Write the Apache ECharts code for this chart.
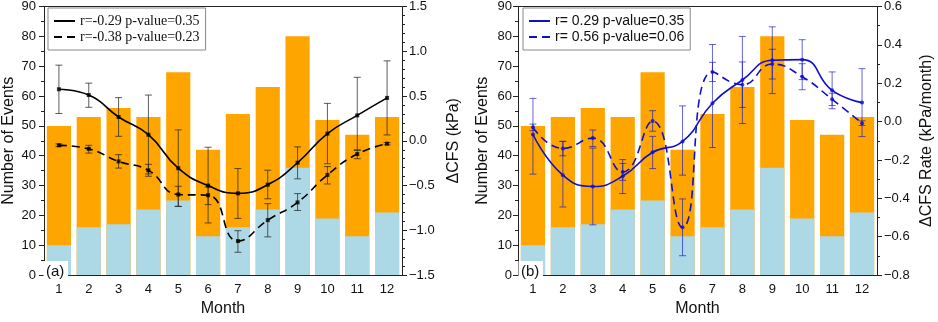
<!DOCTYPE html>
<html><head><meta charset="utf-8">
<script src="https://cdn.jsdelivr.net/npm/echarts@6/dist/echarts.min.js"></script>
<style>html,body{margin:0;padding:0;background:#fff}#c{width:938px;height:322px}</style>
</head><body><div id="c"></div>
<script>
// ---- data ----
const months = ['1','2','3','4','5','6','7','8','9','10','11','12'];
const totalEvents = [50,53,56,53,68,42,54,63,80,52,47,53];
const subEvents   = [10,16,17,22,25,13,16,22,36,19,13,21];
const countTicks = [0,10,20,30,40,50,60,70,80,90];

// panel (a): ΔCFS (kPa)
const aSolidName = 'r=-0.29 p-value=0.35';
const aDashName  = 'r=-0.38 p-value=0.23';
const aSolid   = [0.576,0.511,0.266,0.068,-0.306,-0.50,-0.587,-0.49,-0.245,0.08,0.284,0.479];
const aSolidLo = [0.305,0.374,0.05,-0.37,-0.734,-0.918,-0.867,-0.648,-0.425,-0.256,-0.10,0.065];
const aSolidHi = [0.845,0.644,0.482,0.511,0.122,-0.072,-0.31,-0.328,-0.068,0.418,0.709,0.893];
const aDash    = [-0.05,-0.09,-0.23,-0.33,-0.60,-0.608,-1.12,-0.886,-0.688,-0.381,-0.148,-0.032];
const aDashLo  = [-0.065,-0.137,-0.305,-0.396,-0.731,-0.713,-1.245,-1.073,-0.778,-0.482,-0.20,-0.045];
const aDashHi  = [-0.035,-0.05,-0.155,-0.263,-0.508,-0.515,-1.004,-0.702,-0.59,-0.288,-0.108,-0.02];

// panel (b): ΔCFS Rate (kPa/month)
const bSolidName = 'r= 0.29 p-value=0.35';
const bDashName  = 'r= 0.56 p-value=0.06';
const bSolid   = [-0.067,-0.279,-0.338,-0.285,-0.16,-0.103,0.096,0.217,0.32,0.323,0.163,0.099];
const bSolidLo = [-0.274,-0.445,-0.538,-0.375,-0.245,-0.279,-0.135,-0.01,0.146,0.219,0.067,-0.078];
const bSolidHi = [0.121,-0.103,-0.138,-0.198,-0.077,0.082,0.402,0.444,0.494,0.427,0.259,0.276];
const bDash    = [-0.03,-0.14,-0.086,-0.262,0.003,-0.551,0.259,0.192,0.30,0.234,0.116,-0.008];
const bDashLo  = [-0.047,-0.178,-0.13,-0.306,-0.05,-0.699,0.209,0.074,0.222,0.166,0.084,-0.02];
const bDashHi  = [-0.013,-0.103,-0.044,-0.218,0.057,-0.403,0.309,0.311,0.377,0.302,0.148,0.004];

// ---- chart ----
const FONT = 'Liberation Sans';
const AX = '#222';
function fmt1(v){ if (Math.abs(v)<1e-9) return '0.0'; const s = v.toFixed(1); return s.replace('-', '\u2212'); }

function xAxes(gridIndex){
  return [{
    type:'category', gridIndex, data: months, position:'bottom',
    boundaryGap:true,
    axisLine:{onZero:false, lineStyle:{color:AX,width:1}},
    axisTick:{alignWithLabel:true,length:5,lineStyle:{color:AX}},
    axisLabel:{color:'#111',fontFamily:FONT,fontSize:13,margin:8},
    name:'Month', nameLocation:'middle', nameGap:21,
    nameTextStyle:{color:'#111',fontFamily:FONT,fontSize:16}
  },{
    type:'category', gridIndex, data: months, position:'top',
    boundaryGap:true,
    axisLine:{onZero:false, lineStyle:{color:AX,width:1}},
    axisTick:{alignWithLabel:true,length:5,lineStyle:{color:AX}},
    axisLabel:{show:false}
  }];
}
function countAxis(gridIndex, margin){
  return {
    type:'value', gridIndex, position:'left', min:0, max:90, interval:10,
    axisLine:{show:true,onZero:false,lineStyle:{color:AX}},
    axisTick:{show:true,length:5,lineStyle:{color:AX}},
    minorTick:{show:true,splitNumber:2,length:3,lineStyle:{color:AX}},
    splitLine:{show:false},
    axisLabel:{color:'#111',fontFamily:FONT,fontSize:13,margin:margin},
    name:'Number of Events', nameLocation:'middle', nameGap:27, nameRotate:90,
    nameTextStyle:{color:'#111',fontFamily:FONT,fontSize:16}
  };
}
function rightAxis(gridIndex, min, max, interval, minorSplit, name, gap){
  return {
    type:'value', gridIndex, position:'right', min, max, interval,
    axisLine:{show:true,onZero:false,lineStyle:{color:AX}},
    axisTick:{show:true,length:5,lineStyle:{color:AX}},
    minorTick:{show:true,splitNumber:minorSplit,length:3,lineStyle:{color:AX}},
    splitLine:{show:false},
    axisLabel:{color:'#111',fontFamily:FONT,fontSize:13,margin:7,formatter:fmt1},
    name, nameLocation:'middle', nameGap:gap, nameRotate:90,
    nameTextStyle:{color:'#111',fontFamily:FONT,fontSize:16}
  };
}
function bars(xi, yi){
  return [{
    type:'bar', xAxisIndex:xi, yAxisIndex:yi, data: totalEvents, barWidth:'81%',
    itemStyle:{color:'#FFA500'}, silent:true, z:1
  },{
    type:'bar', xAxisIndex:xi, yAxisIndex:yi, data: subEvents, barWidth:'81%', barGap:'-100%',
    itemStyle:{color:'#ADD8E6'}, silent:true, z:1
  }];
}
function lineSeries(name, vals, xi, yi, color, dashed){
  return {
    type:'line', name, xAxisIndex:xi, yAxisIndex:yi, data: vals, smooth:0.5,
    symbol:'none', lineStyle:{color, width:1.6, type: dashed ? [8,5] : 'solid'},
    itemStyle:{color}, z:5
  };
}
function points(vals, xi, yi, color, shape){
  return {
    type:'scatter', xAxisIndex:xi, yAxisIndex:yi, data: vals, symbol:shape, symbolSize:4,
    itemStyle:{color}, z:6, silent:true
  };
}
function errBars(lo, hi, xi, yi, color){
  return {
    type:'custom', xAxisIndex:xi, yAxisIndex:yi, silent:true, z:4,
    data: months.map((m,i)=>[i, lo[i], hi[i]]),
    encode:{x:0, y:[1,2]},
    renderItem:function(params, api){
      const x = api.value(0);
      const p1 = api.coord([x, api.value(1)]);
      const p2 = api.coord([x, api.value(2)]);
      const w = 3.5;
      const st = {stroke:color, lineWidth:1};
      return {type:'group', children:[
        {type:'line', shape:{x1:p1[0],y1:p1[1],x2:p2[0],y2:p2[1]}, style:st},
        {type:'line', shape:{x1:p1[0]-w,y1:p1[1],x2:p1[0]+w,y2:p1[1]}, style:st},
        {type:'line', shape:{x1:p2[0]-w,y1:p2[1],x2:p2[0]+w,y2:p2[1]}, style:st}
      ]};
    }
  };
}

const blue = '#1010CC';
const ebA = 'rgba(40,40,40,0.75)';
const ebB = 'rgba(20,20,200,0.65)';

const option = {
  animation:false,
  backgroundColor:'#fff',
  grid:[
    {left:43, top:5, width:359, height:278, show:false},
    {left:518, top:5, width:359, height:278, show:false}
  ],
  xAxis:[...xAxes(0), ...xAxes(1)],
  yAxis:[
    countAxis(0, 8),
    rightAxis(0, -1.5, 1.5, 0.5, 5, '\u0394CFS (kPa)', 44),
    countAxis(1, 6),
    rightAxis(1, -0.8, 0.6, 0.2, 2, '\u0394CFS Rate (kPa/month)', 42)
  ],
  legend:[{
    data:[aSolidName, aDashName], orient:'vertical', left:48, top:8,
    itemWidth:21, itemHeight:14, itemGap:2, padding:[6,6,6,5],
    itemStyle:{opacity:0},
    backgroundColor:'#fff', borderColor:'#888', borderWidth:1, borderRadius:0,
    textStyle:{fontFamily:'Liberation Serif', fontSize:14, color:'#111'}, selectedMode:false
  },{
    data:[bSolidName, bDashName], orient:'vertical', left:523, top:8,
    itemWidth:21, itemHeight:14, itemGap:2, padding:[6,6,6,5],
    itemStyle:{opacity:0},
    backgroundColor:'#fff', borderColor:'#888', borderWidth:1, borderRadius:0,
    textStyle:{fontFamily:FONT, fontSize:14, color:'#111'}, selectedMode:false
  }],
  graphic:[
    {type:'rect', shape:{x:43.5, y:261, width:24.5, height:21.5}, style:{fill:'#fff'}, z:50},
    {type:'text', x:46, y:272, style:{text:'(a)', fontFamily:FONT, fontSize:15, fill:'#111', verticalAlign:'middle'}, z:51},
    {type:'rect', shape:{x:518.5, y:261, width:24.5, height:21.5}, style:{fill:'#fff'}, z:50},
    {type:'text', x:521, y:272, style:{text:'(b)', fontFamily:FONT, fontSize:15, fill:'#111', verticalAlign:'middle'}, z:51}
  ],
  series:[
    ...bars(0,0),
    errBars(aSolidLo, aSolidHi, 0, 1, ebA),
    errBars(aDashLo, aDashHi, 0, 1, ebA),
    lineSeries(aSolidName, aSolid, 0, 1, '#000', false),
    lineSeries(aDashName, aDash, 0, 1, '#000', true),
    points(aSolid, 0, 1, '#000', 'rect'),
    points(aDash, 0, 1, '#000', 'rect'),
    ...bars(2,2),
    errBars(bSolidLo, bSolidHi, 2, 3, ebB),
    errBars(bDashLo, bDashHi, 2, 3, ebB),
    lineSeries(bSolidName, bSolid, 2, 3, blue, false),
    lineSeries(bDashName, bDash, 2, 3, blue, true),
    points(bSolid, 2, 3, blue, 'circle'),
    points(bDash, 2, 3, blue, 'circle')
  ]
};
const chart = echarts.init(document.getElementById('c'), null, {renderer:'canvas'});
chart.setOption(option);
</script>
</body></html>
